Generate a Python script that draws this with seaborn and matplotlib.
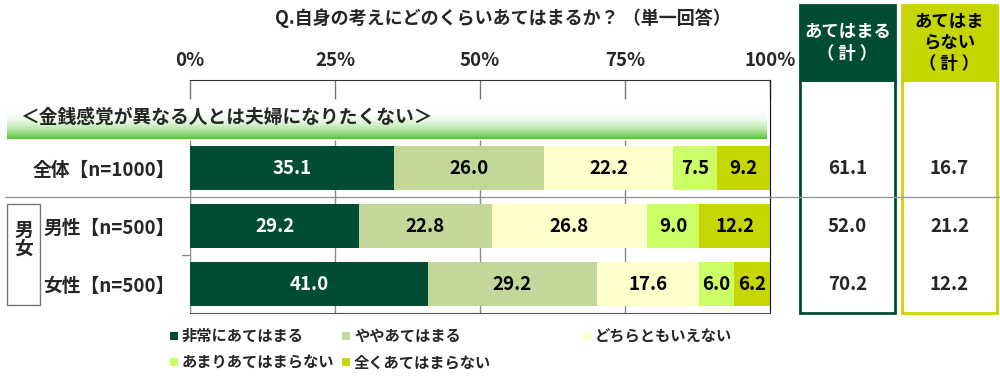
import numpy as np
import matplotlib
matplotlib.use('Agg')
import matplotlib.pyplot as plt
import matplotlib.transforms as mtransforms
from matplotlib.patches import Rectangle
from matplotlib.lines import Line2D
from matplotlib.colors import LinearSegmentedColormap
import seaborn as sns

# Data
groups = ['全体【n=1000】', '男性【n=500】', '女性【n=500】']
categories = ['非常にあてはまる', 'ややあてはまる', 'どちらともいえない',
              'あまりあてはまらない', '全くあてはまらない']
very = [35.1, 29.2, 41.0]
somewhat = [26.0, 22.8, 29.2]
neither = [22.2, 26.8, 17.6]
not_much = [7.5, 9.0, 6.0]
not_at_all = [9.2, 12.2, 6.2]
agree_total = [61.1, 52.0, 70.2]
disagree_total = [16.7, 21.2, 12.2]
ticks = [0, 25, 50, 75, 100]
tick_labels = ['0%', '25%', '50%', '75%', '100%']

title = 'Q.自身の考えにどのくらいあてはまるか？ （単一回答）'
banner = '＜金銭感覚が異なる人とは夫婦になりたくない＞'

colors = ['#004d33', '#c4d79b', '#ffffcc', '#ccff66', '#c5d600']
text_colors = ['white', 'black', 'black', 'black', 'black']

sns.set_style('white')
plt.rcParams['font.family'] = ['Noto Sans CJK JP', 'DejaVu Sans']
plt.rcParams['font.weight'] = 'bold'

W, H = 1000, 379
fig = plt.figure(figsize=(10, 3.79), dpi=100)


def fx(px):
    return px / W


def fy(py):
    return 1 - py / H


# background layer in pixel coordinates
deco = fig.add_axes([0, 0, 1, 1], zorder=0)

ax = fig.add_axes([fx(190), fy(313), fx(770) - fx(190), fy(80) - fy(313)], zorder=1)
ax.patch.set_alpha(0)

# stacked bars: draw cumulative totals, longest first
series = [very, somewhat, neither, not_much, not_at_all]
cum = np.cumsum(series, axis=0)
for i in range(len(series) - 1, -1, -1):
    sns.barplot(x=cum[i], y=groups, orient='h', color=colors[i], width=0.76,
                linewidth=0, saturation=1, errorbar=None, ax=ax, zorder=2)

for i, s in enumerate(series):
    left = cum[i] - np.array(s)
    for j, v in enumerate(s):
        ax.text(left[j] + v / 2, j, f'{v:.1f}', ha='center', va='center',
                color=text_colors[i], fontsize=13.5, zorder=3)

ax.set_xlim(0, 100)
ax.set_ylim(2.5, (80 - 168) / 58)
ax.xaxis.tick_top()
ax.set_xticks(ticks, tick_labels)
ax.tick_params(axis='x', direction='in', length=14, width=1, color='#777',
               pad=7, labelsize=13.5)
ax.tick_params(axis='y', length=0, pad=11, labelsize=13.5)
ax.set_xlabel('')
ax.set_ylabel('')
ax.spines['left'].set_visible(False)
ax.spines['top'].set_color('#333')
ax.spines['right'].set_color('#111')
ax.spines['bottom'].set_color('#555')
ax.vlines([0, 25, 50, 75], -0.48, 2.5, color='#888', lw=1, zorder=0.5)
ax.plot([-1.3, 0], [1.5, 1.5], color='#888', lw=1, clip_on=False)

# banner gradient
grad = np.linspace(0, 1, 64)[:, None] ** 2.2
cmap = LinearSegmentedColormap.from_list('banner', ['white', '#55c432'])
deco.imshow(grad, extent=[7, 767, 139, 108], cmap=cmap, aspect='auto', zorder=0.5)
deco.text(20, 117, banner, fontsize=13.5, va='center', ha='left')

deco.text(503, 18, title, fontsize=13, ha='center', va='center')

# 男女 box
deco.add_patch(Rectangle((7, 204), 33, 101, fill=False, ec='#777', lw=1))
deco.text(23.5, 240, '男\n女', fontsize=13.5, ha='center', va='center', linespacing=1.0)

# right panels
deco.add_patch(Rectangle((800, 5), 95, 75, fc=colors[0], ec=colors[0], lw=2))
deco.add_patch(Rectangle((800, 80), 95, 233, fill=False, ec=colors[0], lw=2))
deco.add_patch(Rectangle((902, 5), 95, 75, fc=colors[4], ec=colors[4], lw=2))
deco.add_patch(Rectangle((902, 80), 95, 233, fill=False, ec=colors[4], lw=2))
deco.text(847.5, 43, 'あてはまる\n（ 計 ）', color='white', fontsize=12.5,
          ha='center', va='center', linespacing=1.25)
deco.text(949.5, 43, 'あてはま\nらない\n（ 計 ）', color='black', fontsize=12.5,
          ha='center', va='center', linespacing=1.2)

trans = mtransforms.blended_transform_factory(fig.transFigure, ax.transData)
for j in range(len(groups)):
    fig.text(fx(847.5), j, f'{agree_total[j]:.1f}', transform=trans,
             ha='center', va='center', fontsize=13.5)
    fig.text(fx(949.5), j, f'{disagree_total[j]:.1f}', transform=trans,
             ha='center', va='center', fontsize=13.5)
fig.add_artist(Line2D([fx(5), 1], [0.5, 0.5], transform=trans, color='#999', lw=1))

# legend
legend_pos = [(170, 336), (342, 336), (583, 336), (170, 362), (342, 362)]
for (sx, sy), lab, c in zip(legend_pos, categories, colors):
    deco.add_patch(Rectangle((sx, sy - 4), 8, 8, fc=c, ec='none'))
    deco.text(sx + 12, sy, lab, fontsize=11, va='center', ha='left')

deco.set_xlim(0, W)
deco.set_ylim(H, 0)
deco.axis('off')

fig.savefig('out.png', dpi=100)
